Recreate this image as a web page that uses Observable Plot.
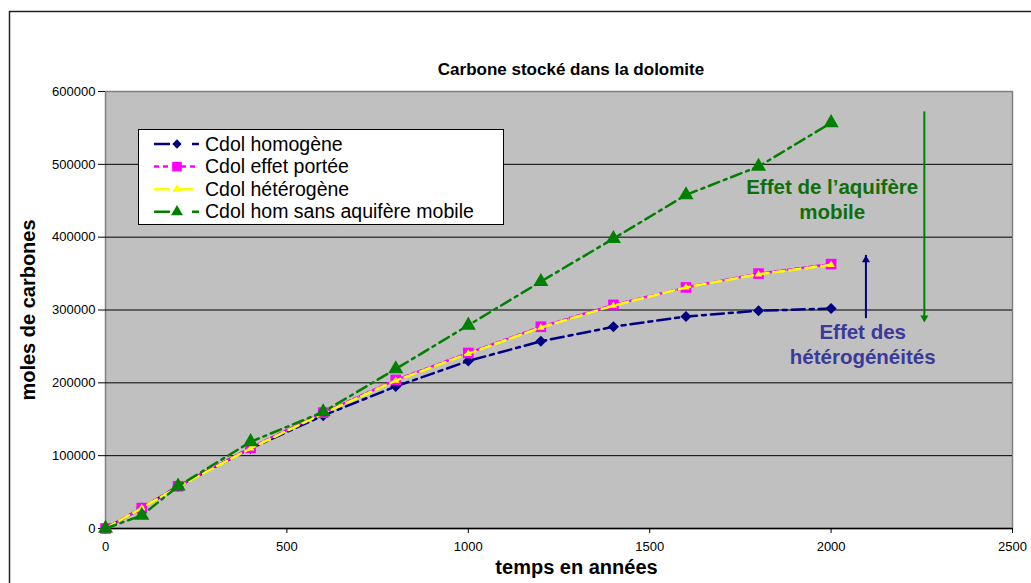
<!DOCTYPE html>
<html><head><meta charset="utf-8">
<script src="https://cdn.jsdelivr.net/npm/d3@7"></script>
<script src="https://cdn.jsdelivr.net/npm/@observablehq/plot@0.6"></script>
<style>body{margin:0;background:#fff;} #chart svg{display:block}</style>
</head><body><div id="chart"></div>
<script>
// ---- data ----
const years = [0, 100, 200, 400, 600, 800, 1000, 1200, 1400, 1600, 1800, 2000];
const homogene      = [0, 28000, 58000, 110000, 155000, 195000, 230000, 257000, 277000, 291000, 299000, 302000];
const effetPortee   = [0, 28000, 58000, 111000, 159000, 204000, 241000, 277000, 307000, 331000, 350000, 363000];
const heterogene    = [0, 28000, 57000, 110000, 158000, 203000, 240000, 276000, 306000, 331000, 349000, 362000];
const sansAquifere  = [0, 18000, 58000, 119000, 160000, 219000, 279000, 339000, 398000, 458000, 497000, 557000];
const seriesNames = ["Cdol homogène", "Cdol effet portée", "Cdol hétérogène", "Cdol hom sans aquifère mobile"];
const xTicks = [0, 500, 1000, 1500, 2000, 2500];
const yTicks = [0, 100000, 200000, 300000, 400000, 500000, 600000];
const titleText = ["Carbone stocké dans la dolomite"];
const xLabel = ["temps en années"];
const yLabel = ["moles de carbones"];
const noteAquifere = [{text: "Effet de l’aquifère\nmobile", x: 2003, y: 425000}];
const noteHeter = [{text: "Effet des\nhétérogénéités", x: 2087, y: 226000}];
const arrowHeter = [{x: 2096, y1: 295000, y2: 375000}];
const arrowAquifere = [{x: 2257, y1: 572000, y2: 283000}];

// ---- styles ----
const colors = ["#000080", "#FF00FF", "#FFFF00", "#008000"];
const dashes = ["13,5,4,5", "4,3", "11,5", "11,5,3,5"];
const font = "'Liberation Sans', Arial, Helvetica, sans-serif";

const toRows = vals => years.map((t, i) => ({t, v: vals[i]}));
const rows = [homogene, effetPortee, heterogene, sansAquifere].map(toRows);

const plot = Plot.plot({
  width: 1031,
  height: 583,
  marginLeft: 105,
  marginRight: 19,
  marginTop: 91,
  marginBottom: 55,
  style: {fontFamily: font, background: "#fff", color: "#000"},
  x: {domain: [0, 2500]},
  y: {domain: [0, 600000]},
  marks: [
    Plot.frame({fill: "#C0C0C0", stroke: "#808080", strokeWidth: 1.5}),
    Plot.ruleY(yTicks.filter(d => d > 0 && d < 600000), {stroke: "#000", strokeWidth: 1}),
    Plot.ruleY([0], {stroke: "#000", strokeWidth: 1.5}),
    Plot.axisY({ticks: yTicks, tickFormat: d => String(d), tickSize: 7, tickPadding: 3, fontSize: 13, label: null, stroke: "#000"}),
    Plot.axisX({ticks: xTicks, tickFormat: d => String(d), tickSize: 5, tickPadding: 8, fontSize: 13, label: null, stroke: "#000"}),
    // series
    Plot.line(rows[0], {x: "t", y: "v", stroke: colors[0], strokeWidth: 2.5, strokeDasharray: dashes[0]}),
    Plot.dot(rows[0], {x: "t", y: "v", symbol: "diamond2", r: 5, fill: colors[0]}),
    Plot.line(rows[1], {x: "t", y: "v", stroke: colors[1], strokeWidth: 2.5, strokeDasharray: dashes[1]}),
    Plot.dot(rows[1], {x: "t", y: "v", symbol: "square", r: 6, fill: colors[1]}),
    Plot.line(rows[2], {x: "t", y: "v", stroke: colors[2], strokeWidth: 2.5, strokeDasharray: dashes[2]}),
    Plot.dot(rows[2], {x: "t", y: "v", symbol: "triangle", r: 2.8, fill: colors[2]}),
    Plot.line(rows[3], {x: "t", y: "v", stroke: colors[3], strokeWidth: 2.5, strokeDasharray: dashes[3]}),
    Plot.dot(rows[3], {x: "t", y: "v", symbol: "triangle", r: 5.6, fill: colors[3]}),
    // arrows
    Plot.ruleX(arrowHeter, {x: "x", y1: "y1", y2: "y2", stroke: "#000080", strokeWidth: 2, insetTop: 5}),
    Plot.dot(arrowHeter, {x: "x", y: "y2", symbol: "triangle", r: 3, fill: "#000080", dy: 4.6}),
    Plot.ruleX(arrowAquifere, {x: "x", y1: "y1", y2: "y2", stroke: "#008000", strokeWidth: 2, insetBottom: 5}),
    Plot.dot(arrowAquifere, {x: "x", y: "y2", symbol: "triangle", r: 3, fill: "#008000", rotate: 180, dy: -4.6}),
    // annotations
    Plot.text(noteAquifere, {x: "x", y: "y", text: "text", fill: "#0E6E0E", fontWeight: "bold", fontSize: 20.5, lineAnchor: "bottom", lineHeight: 1.2, textAnchor: "middle"}),
    Plot.text(noteHeter, {x: "x", y: "y", text: "text", fill: "#3A3A9A", fontWeight: "bold", fontSize: 20.5, lineAnchor: "bottom", lineHeight: 1.22, textAnchor: "middle"}),
    // titles
    Plot.text(titleText, {text: d => d, frameAnchor: "top", textAnchor: "middle", dx: 12, dy: -17, lineAnchor: "bottom", fontWeight: "bold", fontSize: 17, fill: "#000"}),
    Plot.text(xLabel, {text: d => d, frameAnchor: "bottom", textAnchor: "middle", dx: 17.5, dy: 45, lineAnchor: "bottom", fontWeight: "bold", fontSize: 20, fill: "#000"}),
    Plot.text(yLabel, {text: d => d, frameAnchor: "left", textAnchor: "middle", dx: -77, rotate: -90, lineAnchor: "middle", fontWeight: "bold", fontSize: 20, fill: "#000"})
  ]
});
document.getElementById("chart").appendChild(plot);

// ---- outer chart border and legend ----
const svg = d3.select(plot);
svg.append("rect").attr("x", 9.5).attr("y", 11.5).attr("width", 1040).attr("height", 600)
  .attr("fill", "none").attr("stroke", "#222").attr("stroke-width", 1.5);

const lg = svg.append("g").attr("text-anchor", "start");
lg.append("rect").attr("x", 138.5).attr("y", 129.5).attr("width", 365).attr("height", 95)
  .attr("fill", "#fff").attr("stroke", "#000").attr("stroke-width", 1);
const legendSymbols = [d3.symbolDiamond2, d3.symbolSquare, d3.symbolTriangle, d3.symbolTriangle];
const legendR = [4.2, 5.4, 3.4, 4.4];
const legendDash = ["16,22,8", "5,4", "16,7", "16,22,8"];
seriesNames.forEach((name, i) => {
  const base = 150.5 + i * 22.6;
  const cy = base - 6.5;
  lg.append("line").attr("x1", 154).attr("x2", 199).attr("y1", cy).attr("y2", cy)
    .attr("stroke", colors[i]).attr("stroke-width", 2.5)
    .attr("stroke-dasharray", legendDash[i]);
  lg.append("path").attr("d", d3.symbol(legendSymbols[i], Math.PI * legendR[i] * legendR[i])())
    .attr("transform", `translate(177,${cy})`).attr("fill", colors[i]);
  lg.append("text").attr("x", 205).attr("y", base).text(name)
    .attr("text-anchor", "start")
    .attr("font-family", font).attr("font-size", 19.5).attr("fill", "#000");
});
</script>
</body></html>
